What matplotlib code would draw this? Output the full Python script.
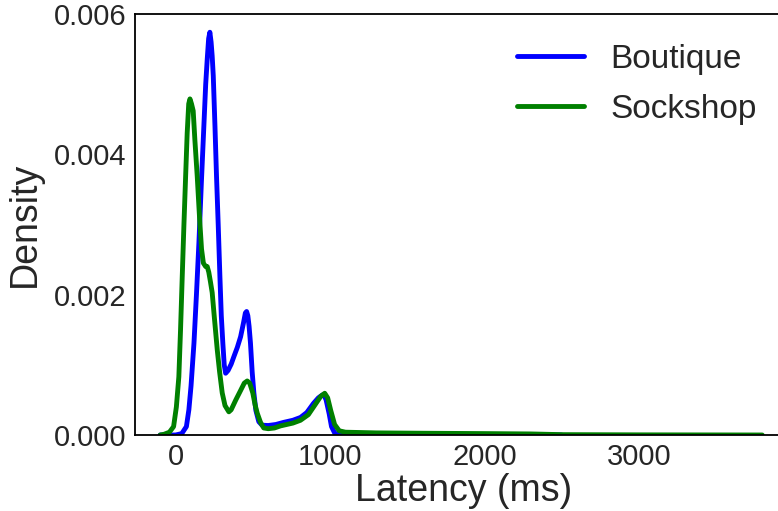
import matplotlib
matplotlib.use("Agg")
import matplotlib.pyplot as plt
from matplotlib.ticker import FormatStrFormatter

# Boutique latency density
boutique_x = [-100, 0, 40, 70, 86, 100, 119, 135, 151, 167, 183, 195, 205, 214, 222, 230, 237,
              244, 255, 265, 276, 287, 296, 306, 315, 324, 340, 360, 378, 400, 421, 440, 452,
              460, 468, 476, 485, 496, 507, 520, 539, 560, 600, 650, 700, 760, 809, 850, 893,
              925, 950, 960, 975, 995, 1010, 1030, 1060, 2500]
boutique_y = [0, 0, 0.00002, 0.00012, 0.00036, 0.0007, 0.00131, 0.0020, 0.00274, 0.0036, 0.0044,
              0.0050, 0.00536, 0.00565, 0.00574, 0.0056, 0.0054, 0.00512, 0.0044, 0.00369, 0.0030,
              0.00226, 0.0017, 0.00131, 0.00100, 0.00088, 0.00092, 0.00101, 0.00112, 0.00125,
              0.0014, 0.00160, 0.00174, 0.00176, 0.0017, 0.00155, 0.00131, 0.0009, 0.0006,
              0.00035, 0.00019, 0.00014, 0.000135, 0.00015, 0.00018, 0.00021, 0.00025, 0.00032,
              0.00045, 0.00053, 0.00057, 0.000575, 0.0005, 0.0003, 0.00012, 0.00003, 0.0, 0.0]

# Sockshop latency density
sockshop_x = [-100, -75, -40, -13, 5, 21, 32, 43, 54, 65, 75, 85, 93, 103, 114, 125, 140, 155,
              168, 180, 195, 205, 215, 226, 237, 250, 270, 285, 302, 320, 345, 360, 390, 420,
              445, 464, 480, 500, 515, 529, 550, 571, 600, 640, 680, 760, 809, 860, 900, 940,
              966, 985, 1005, 1030, 1060, 1100, 1300, 1600, 2000, 2300, 2500, 3000, 3800]
sockshop_y = [0, 0.00001, 0.00004, 0.00012, 0.0004, 0.00083, 0.0015, 0.00226, 0.0030, 0.00369,
              0.0043, 0.00472, 0.00479, 0.00472, 0.00462, 0.0042, 0.00369, 0.0031, 0.00265,
              0.00245, 0.0024, 0.0024, 0.00232, 0.00218, 0.00203, 0.0017, 0.00121, 0.0009,
              0.0006, 0.00042, 0.00033, 0.00036, 0.0005, 0.00063, 0.00074, 0.00077, 0.00074,
              0.0006, 0.00043, 0.00031, 0.00018, 0.0001, 0.00009, 0.0001, 0.00013, 0.00017,
              0.00021, 0.00029, 0.00042, 0.00055, 0.000595, 0.00053, 0.00035, 0.00015, 0.00006,
              0.00004, 0.00003, 0.000025, 0.00002, 0.000015, 0.000005, 0.000002, 0.0]

series_labels = ["Boutique", "Sockshop"]
x_ticks = [0, 1000, 2000, 3000]
y_ticks = [0.000, 0.002, 0.004, 0.006]

plt.rcParams["font.family"] = ["Liberation Sans", "DejaVu Sans"]
text_color = "#262626"

fig = plt.figure(figsize=(7.78, 5.11), dpi=100)
ax = fig.add_axes([135 / 778, 76 / 511, (792 - 135) / 778, (435 - 14) / 511])

ax.plot(boutique_x, boutique_y, color="#0000ff", lw=3.5, label=series_labels[0], solid_capstyle="round")
ax.plot(sockshop_x, sockshop_y, color="#008000", lw=3.5, label=series_labels[1], solid_capstyle="round")

ax.set_xlim(-263, 3993)
ax.set_ylim(0, 0.006)
ax.set_xticks(x_ticks)
ax.set_yticks(y_ticks)
ax.yaxis.set_major_formatter(FormatStrFormatter("%.3f"))
ax.tick_params(axis="both", length=0, labelsize=21, colors=text_color, pad=6)
ax.set_xlabel("Latency (ms)", fontsize=27, color=text_color, labelpad=1)
ax.set_ylabel("Density", fontsize=27, color=text_color, labelpad=8)
for s in ax.spines.values():
    s.set_color("black")
    s.set_linewidth(1.3)

leg = ax.legend(loc="upper right", bbox_to_anchor=(787 / 778, 1 - 14 / 511),
                bbox_transform=fig.transFigure, frameon=False, fontsize=24,
                handlelength=2.0, labelspacing=0.57, borderaxespad=0.5)
for t in leg.get_texts():
    t.set_color(text_color)

fig.savefig("out.png", dpi=100)
